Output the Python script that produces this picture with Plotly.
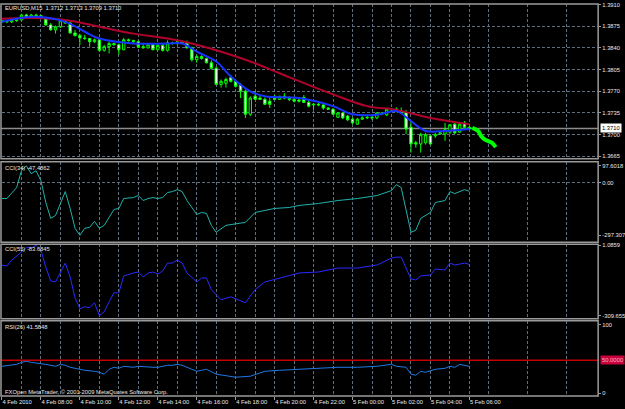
import plotly.graph_objects as go

W, H = 625, 409

# ---------------- data ----------------
bar = list(range(97))
time_labels = ["4 Feb 2010", "4 Feb 08:00", "4 Feb 10:00", "4 Feb 12:00", "4 Feb 14:00",
               "4 Feb 16:00", "4 Feb 18:00", "4 Feb 20:00", "4 Feb 22:00", "5 Feb 00:00",
               "5 Feb 02:00", "5 Feb 04:00", "5 Feb 06:00"]
time_label_bars = [0, 8, 16, 24, 32, 40, 48, 56, 64, 72, 80, 88, 96]

open_ = [1.3882,1.3884,1.3882,1.3884,1.3885,1.3893,1.3888,1.3893,1.3892,1.3888,
         1.3877,1.3869,1.3874,1.3884,1.3880,1.3864,1.3860,1.3856,1.3855,1.3850,
         1.3853,1.3836,1.3842,1.3847,1.3845,1.3837,1.3853,1.3852,1.3850,1.3842,
         1.3840,1.3845,1.3837,1.3844,1.3836,1.3848,1.3847,1.3850,1.3848,1.3840,
         1.3821,1.3826,1.3823,1.3816,1.3807,1.3781,1.3783,1.3792,1.3786,1.3780,
         1.3770,1.3733,1.3762,1.3759,1.3757,1.3754,1.3759,1.3757,1.3762,1.3759,
         1.3757,1.3756,1.3760,1.3752,1.3748,1.3749,1.3748,1.3743,1.3741,1.3728,
         1.3735,1.3730,1.3725,1.3717,1.3725,1.3727,1.3728,1.3727,1.3735,1.3732,
         1.3741,1.3741,1.3738,1.3736,1.3712,1.3687,1.3685,1.3687,1.3698,1.3698,
         1.3701,1.3701,1.3704,1.3717,1.3704,1.3719,1.3712]
high = [1.3885,1.3885,1.3885,1.3887,1.3895,1.3895,1.3895,1.3895,1.3893,1.3890,
        1.3880,1.3876,1.3885,1.3885,1.3882,1.3869,1.3863,1.3861,1.3856,1.3855,
        1.3855,1.3845,1.3850,1.3848,1.3847,1.3856,1.3855,1.3853,1.3852,1.3848,
        1.3847,1.3847,1.3845,1.3847,1.3852,1.3850,1.3852,1.3852,1.3852,1.3842,
        1.3829,1.3828,1.3824,1.3820,1.3810,1.3789,1.3792,1.3796,1.3789,1.3783,
        1.3773,1.3762,1.3770,1.3764,1.3760,1.3759,1.3764,1.3762,1.3767,1.3762,
        1.3760,1.3760,1.3764,1.3756,1.3751,1.3751,1.3749,1.3744,1.3743,1.3736,
        1.3736,1.3732,1.3728,1.3727,1.3730,1.3732,1.3730,1.3736,1.3736,1.3743,
        1.3743,1.3744,1.3744,1.3740,1.3722,1.3690,1.3703,1.3703,1.3700,1.3703,
        1.3704,1.3719,1.3716,1.3719,1.3719,1.3722,1.3713]
low = [1.3880,1.3880,1.3880,1.3882,1.3884,1.3887,1.3887,1.3890,1.3887,1.3876,
       1.3868,1.3863,1.3872,1.3879,1.3863,1.3858,1.3845,1.3853,1.3842,1.3848,
       1.3834,1.3834,1.3831,1.3844,1.3829,1.3836,1.3850,1.3848,1.3840,1.3839,
       1.3839,1.3836,1.3836,1.3834,1.3834,1.3845,1.3845,1.3847,1.3839,1.3818,
       1.3816,1.3821,1.3815,1.3805,1.3780,1.3776,1.3776,1.3784,1.3776,1.3759,
       1.3727,1.3730,1.3756,1.3756,1.3748,1.3743,1.3756,1.3756,1.3757,1.3754,
       1.3752,1.3752,1.3751,1.3744,1.3741,1.3746,1.3740,1.3740,1.3732,1.3727,
       1.3725,1.3722,1.3717,1.3716,1.3724,1.3725,1.3724,1.3725,1.3732,1.3730,
       1.3738,1.3736,1.3736,1.3701,1.3671,1.3679,1.3671,1.3684,1.3684,1.3695,
       1.3700,1.3690,1.3701,1.3701,1.3703,1.3709,1.3709]
close = [1.3884,1.3882,1.3884,1.3885,1.3893,1.3888,1.3893,1.3892,1.3888,1.3877,
         1.3869,1.3874,1.3884,1.3880,1.3864,1.3860,1.3856,1.3855,1.3850,1.3853,
         1.3836,1.3842,1.3847,1.3845,1.3837,1.3853,1.3852,1.3850,1.3842,1.3840,
         1.3845,1.3837,1.3844,1.3836,1.3848,1.3847,1.3850,1.3848,1.3840,1.3821,
         1.3826,1.3823,1.3816,1.3807,1.3781,1.3786,1.3789,1.3786,1.3778,1.3770,
         1.3733,1.3759,1.3757,1.3757,1.3749,1.3749,1.3757,1.3762,1.3759,1.3757,
         1.3754,1.3754,1.3752,1.3746,1.3749,1.3748,1.3743,1.3741,1.3733,1.3735,
         1.3727,1.3724,1.3719,1.3725,1.3727,1.3728,1.3727,1.3735,1.3733,1.3741,
         1.3740,1.3738,1.3736,1.3709,1.3685,1.3685,1.3700,1.3700,1.3685,1.3700,
         1.3703,1.3708,1.3716,1.3703,1.3717,1.3712,1.3710]

ma_fast_x = [0, 6, 13, 17, 20, 27, 34, 37, 40, 44, 47, 51, 54, 61, 68, 72, 77, 81, 84, 87, 91, 96]
ma_fast = [1.3882,1.3890,1.3882,1.3866,1.3855,1.3847,1.3847,1.3847,1.3834,1.3818,1.3794,
           1.3770,1.3762,1.3759,1.3746,1.3733,1.3732,1.3738,1.3722,1.3706,1.3706,1.3709]
ma_slow_x = [0, 6, 13, 20, 27, 34, 40, 51, 57, 68, 75, 81, 88, 96]
ma_slow = [1.3887,1.3888,1.3885,1.3874,1.3863,1.3855,1.3845,1.3818,1.3799,1.3765,
           1.3746,1.3740,1.3727,1.3717]
proj_x = [96.6, 97.8, 98.4, 99.2, 100.6, 101.4]
proj = [1.3711, 1.3706, 1.3698, 1.3692, 1.3687, 1.3680]

cci34_x = [0,1,3,4,5,6,7,8,9,10,11,12,13,14,15,16,17,18,19,20,21,22,23,24,25,27,28,29,30,31,
           32,33,34,35,36,37,38,40,41,42,43,44,46,50,52,54,56,59,61,65,69,73,77,80,81,82,83,84,
           85,86,88,89,91,92,93,95,96]
cci34 = [-88.5,-88.5,-26.5,69.4,97.6,52.5,69.4,12.8,-111.1,-201.3,-184.4,-111.1,-49.0,-144.9,
         -257.7,-297.3,-257.7,-252.1,-218.2,-257.7,-240.8,-195.7,-150.6,-144.9,-88.5,-82.9,-71.6,
         -99.8,-88.5,-82.9,-88.5,-82.9,-54.7,-49.0,-37.8,-49.0,-99.8,-178.8,-167.5,-173.1,-240.8,
         -280.3,-240.8,-224.0,-167.5,-156.2,-144.9,-139.3,-128.0,-116.7,-99.8,-88.5,-71.6,-43.4,
         -9.6,-26.5,-144.9,-280.3,-269.0,-201.3,-167.5,-111.1,-99.8,-49.0,-60.3,-37.8,-47.49]

cci55_x = [0,1,2,4,5,6,7,8,9,10,11,12,13,14,15,16,17,18,19,20,21,22,23,24,25,27,28,29,30,31,
           32,33,34,35,36,37,38,40,41,42,43,45,47,50,52,54,57,61,65,69,73,77,80,81,82,83,84,85,
           86,88,89,91,92,93,95,96]
cci55 = [-86.5,-90.8,-64.6,-29.6,-7.7,-12.0,1.09,-20.8,-95.2,-156.5,-160.9,-121.5,-77.7,-139.0,
         -230.9,-279.0,-270.3,-274.6,-252.8,-309.66,-292.2,-248.4,-209.0,-209.0,-134.6,-121.5,
         -117.1,-139.0,-121.5,-117.1,-125.8,-112.7,-77.7,-77.7,-64.6,-77.7,-121.5,-160.9,-143.4,
         -143.4,-194.8,-239.6,-226.5,-252.8,-194.0,-161.0,-143.0,-121.5,-117.0,-99.6,-99.6,-86.5,
         -55.8,-51.4,-51.4,-99.6,-147.7,-152.1,-134.6,-130.2,-104.0,-108.3,-77.7,-86.5,-77.7,-83.68]

rsi_x = [0,2,3,4,5,6,8,9,11,12,13,14,16,17,19,20,21,22,23,24,25,27,28,30,31,32,34,35,36,37,
         38,40,41,42,44,48,51,54,57,61,65,69,73,77,80,81,83,84,85,86,87,89,91,92,93,94,96]
rsi = [41.7,43.1,44.4,47.2,48.6,47.2,45.8,44.4,41.7,44.4,43.1,40.3,37.5,36.1,34.7,33.3,30.6,
       37.5,40.3,38.9,41.7,40.3,41.7,40.3,40.3,40.3,43.1,43.1,44.4,43.1,40.3,34.7,36.1,37.5,
       30.6,26.4,27.8,34.7,36.1,37.5,38.9,40.3,40.3,41.7,44.4,41.7,40.3,30.6,29.2,34.7,33.3,
       37.5,38.9,41.7,40.3,44.4,41.58]

price_ticks = [1.3910, 1.3875, 1.3840, 1.3805, 1.3770, 1.3735, 1.3700, 1.3665]
bid_price = 1.3710
rsi_level = 50

# ---------------- layout helpers ----------------
BG = "#000000"
GRID = "#5f6f80"
FRAME = "#9a9a9a"
TXT = "#e8e8e8"
FONT = "Liberation Sans"
FS = 5.8
X0, X1 = 2, 602          # plot area in pixels (x)
BAR_PX = 4.9             # pixels per bar


def fx(px):
    return px / W


def fy(py):
    return 1 - py / H


def yrange(v_a, py_a, v_b, py_b, top, bot):
    k = (v_a - v_b) / (py_b - py_a)
    return [v_a - (bot - py_a) * k, v_a + (py_a - top) * k]


panels = {
    "main": (2, 158),
    "cci34": (161, 242),
    "cci55": (244, 319),
    "rsi": (321, 397),
}

fig = go.Figure()

fig.add_trace(go.Candlestick(
    x=bar, open=open_, high=high, low=low, close=close,
    increasing=dict(line=dict(color="#00ff00", width=1), fillcolor="#000000"),
    decreasing=dict(line=dict(color="#00ff00", width=1), fillcolor="#ffffff"),
    whiskerwidth=0, xaxis="x", yaxis="y", showlegend=False, hoverinfo="skip"))
fig.add_trace(go.Scatter(x=ma_slow_x, y=ma_slow, mode="lines", yaxis="y",
                         line=dict(color="#b0002c", width=2, shape="spline"),
                         showlegend=False, hoverinfo="skip"))
fig.add_trace(go.Scatter(x=ma_fast_x, y=ma_fast, mode="lines", yaxis="y",
                         line=dict(color="#1634ff", width=2, shape="spline"),
                         showlegend=False, hoverinfo="skip"))
fig.add_trace(go.Scatter(x=proj_x, y=proj, mode="lines", yaxis="y",
                         line=dict(color="#00ff00", width=4, shape="spline"),
                         showlegend=False, hoverinfo="skip"))
fig.add_trace(go.Scatter(x=cci34_x, y=cci34, mode="lines", yaxis="y2",
                         line=dict(color="#20b2aa", width=1),
                         showlegend=False, hoverinfo="skip"))
fig.add_trace(go.Scatter(x=cci55_x, y=cci55, mode="lines", yaxis="y3",
                         line=dict(color="#2a2aff", width=1),
                         showlegend=False, hoverinfo="skip"))
fig.add_trace(go.Scatter(x=rsi_x, y=rsi, mode="lines", yaxis="y4",
                         line=dict(color="#1e78e6", width=1),
                         showlegend=False, hoverinfo="skip"))

tickfont = dict(family=FONT, size=FS, color=TXT)
ycommon = dict(side="right", anchor="x", ticks="outside", ticklen=2, tickcolor=FRAME,
               tickfont=tickfont, zeroline=False, showline=False, fixedrange=True)

top, bot = panels["main"]
yaxis = dict(ycommon, domain=[fy(bot), fy(top)],
             range=yrange(1.3910, 2.5, 1.3665, 155.5, top, bot),
             tickmode="array", tickvals=price_ticks,
             ticktext=[f"{v:.4f}" for v in price_ticks],
             showgrid=True, gridcolor=GRID, griddash="3px,2px", gridwidth=1)

top, bot = panels["cci34"]
yaxis2 = dict(ycommon, domain=[fy(bot), fy(top)],
              range=yrange(97.6018, 165, -297.307, 235, top, bot),
              tickmode="array", tickvals=[97.6018, 0, -297.307],
              ticktext=["97.6018", "0.00", "-297.307"], showgrid=False,
              minor=dict(tickmode="array", tickvals=[0], showgrid=True, gridcolor=GRID,
                         griddash="3px,2px", ticks=""))

top, bot = panels["cci55"]
yaxis3 = dict(ycommon, domain=[fy(bot), fy(top)],
              range=yrange(1.0859, 245, -309.655, 316, top, bot),
              tickmode="array", tickvals=[1.0859, -309.655],
              ticktext=["1.0859", "-309.655"], showgrid=False)

top, bot = panels["rsi"]
rsi_rng = yrange(100, 325, 0, 397, top, bot)
yaxis4 = dict(ycommon, domain=[fy(bot), fy(top)], range=rsi_rng,
              tickmode="array", tickvals=[100, 4.2], ticktext=["100", "0"], showgrid=False)

xaxis = dict(domain=[fx(X0), fx(X1)], range=[0, (X1 - X0) / BAR_PX], anchor="y4",
             tickmode="array", tickvals=time_label_bars, ticktext=time_labels,
             tickangle=0,
             ticks="outside", ticklen=3, tickcolor=FRAME, ticklabelposition="outside right",
             tickfont=tickfont, showgrid=True, gridcolor=GRID, griddash="3px,2px", gridwidth=1,
             minor=dict(tickmode="array", tickvals=list(range(4, 124, 8)), showgrid=True,
                        gridcolor=GRID, griddash="3px,2px", ticks=""),
             zeroline=False, showline=False, rangeslider=dict(visible=False), fixedrange=True)

shapes = []
for name, (t, b) in panels.items():
    shapes.append(dict(type="rect", xref="paper", yref="paper", x0=fx(1), x1=fx(X1),
                       y0=fy(b), y1=fy(t), line=dict(color=FRAME, width=1.5),
                       fillcolor="rgba(0,0,0,0)", layer="above"))
# bid line and RSI level
shapes.append(dict(type="line", xref="paper", yref="y", x0=fx(1), x1=fx(X1),
                   y0=bid_price, y1=bid_price, line=dict(color="#8c8c8c", width=1.5),
                   layer="below"))
shapes.append(dict(type="line", xref="paper", yref="y4", x0=fx(1), x1=fx(X1),
                   y0=rsi_level, y1=rsi_level, line=dict(color="#c40000", width=1.5),
                   layer="below"))

ann = []


def label(text, px, py):
    ann.append(dict(text=text, x=fx(px), y=fy(py), xref="paper", yref="paper",
                    xanchor="left", yanchor="middle", showarrow=False,
                    font=dict(family=FONT, size=FS, color=TXT)))


label("EURUSD,M15\u00a0\u00a01.3712 1.3713 1.3709 1.3710", 3, 6)
label("CCI(34) -47.4862", 3, 167)
label("CCI(55) -83.6845", 3, 249)
label("RSI(26) 41.5848", 3, 327)
label("FXOpen MetaTrader, \u00a9 2001-2009 MetaQuotes Software Corp.", 3, 392.5)

ann.append(dict(text=f"{bid_price:.4f}", x=fx(X1 + 2), y=bid_price, xref="paper", yref="y",
                xanchor="left", yanchor="middle", showarrow=False, bgcolor="#ffffff",
                borderpad=1, font=dict(family=FONT, size=FS, color="#000000")))
ann.append(dict(text=f"{rsi_level:.4f}", x=fx(X1 + 2), y=rsi_level, xref="paper", yref="y4",
                xanchor="left", yanchor="middle", showarrow=False, bgcolor="#c8003c",
                borderpad=1, font=dict(family=FONT, size=FS, color="#ffb0c8")))

fig.update_layout(width=W, height=H, margin=dict(l=0, r=0, t=0, b=0),
                  paper_bgcolor=BG, plot_bgcolor=BG, showlegend=False,
                  xaxis=xaxis, yaxis=yaxis, yaxis2=yaxis2, yaxis3=yaxis3, yaxis4=yaxis4,
                  shapes=shapes, annotations=ann, hovermode=False)

fig.write_html("out.html", config=dict(displayModeBar=False, staticPlot=True))
